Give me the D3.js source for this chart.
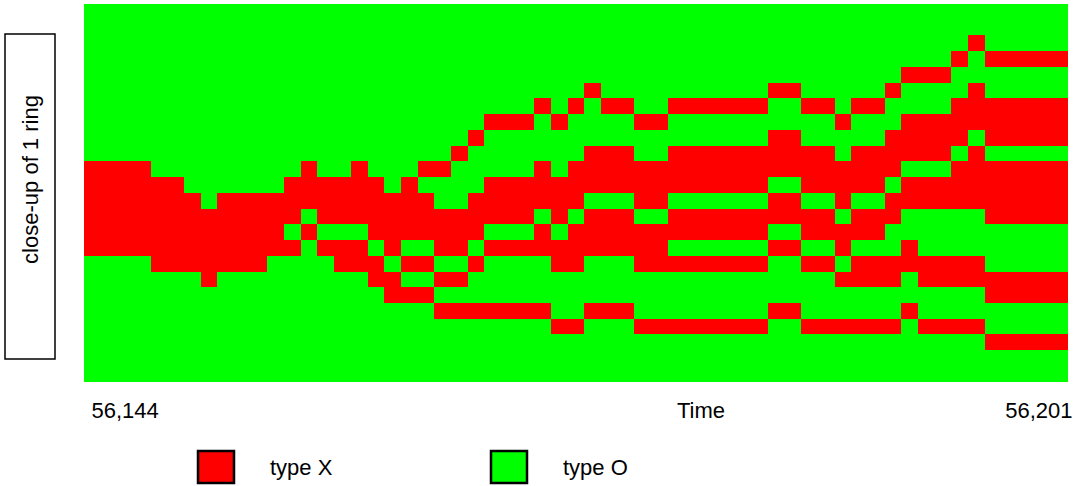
<!DOCTYPE html>
<html>
<head>
<meta charset="utf-8">
<script src="https://cdn.jsdelivr.net/npm/d3@7"></script>
<style>
  html, body { margin: 0; padding: 0; background: #ffffff; }
  svg { display: block; }
  text { font-family: "Liberation Sans", Arial, Helvetica, sans-serif; fill: #000; }
</style>
</head>
<body>
<svg id="chart" width="1088" height="486"></svg>
<script>
// ---- data ----
const times = [56144, 56145, 56146, 56147, 56148, 56149, 56150, 56151, 56152, 56153,
               56154, 56155, 56156, 56157, 56158, 56159, 56160, 56161, 56162, 56163,
               56164, 56165, 56166, 56167, 56168, 56169, 56170, 56171, 56172, 56173,
               56174, 56175, 56176, 56177, 56178, 56179, 56180, 56181, 56182, 56183,
               56184, 56185, 56186, 56187, 56188, 56189, 56190, 56191, 56192, 56193,
               56194, 56195, 56196, 56197, 56198, 56199, 56200, 56201, 56202];

const ringCells = ["c01", "c02", "c03", "c04", "c05", "c06", "c07", "c08", "c09", "c10", "c11", "c12",
                   "c13", "c14", "c15", "c16", "c17", "c18", "c19", "c20", "c21", "c22", "c23", "c24"];

// one string per ring cell (top to bottom), one letter per time step: X = type X, O = type O
const ringStates = [
  "OOOOOOOOOO OOOOOOOOOO OOOOOOOOOO OOOOOOOOOO OOOOOOOOOO OOOOOOOOO",
  "OOOOOOOOOO OOOOOOOOOO OOOOOOOOOO OOOOOOOOOO OOOOOOOOOO OOOOOOOOO",
  "OOOOOOOOOO OOOOOOOOOO OOOOOOOOOO OOOOOOOOOO OOOOOOOOOO OOOXOOOOO",
  "OOOOOOOOOO OOOOOOOOOO OOOOOOOOOO OOOOOOOOOO OOOOOOOOOO OOXOXXXXX",
  "OOOOOOOOOO OOOOOOOOOO OOOOOOOOOO OOOOOOOOOO OOOOOOOOOX XXOOOOOOO",
  "OOOOOOOOOO OOOOOOOOOO OOOOOOOOOO XOOOOOOOOO OXXOOOOOXO OOOXOOOOO",
  "OOOOOOOOOO OOOOOOOOOO OOOOOOOXOX OXXOOXXXXX XOOXXOXXOO OOXXXXXXX",
  "OOOOOOOOOO OOOOOOOOOO OOOOXXXOXO OOOXXOOOOO OOOOOXOOOX XXXXXXXXX",
  "OOOOOOOOOO OOOOOOOOOO OOOXOOOOOO OOOOOOOOOO OXXOOOOOXX XXXOXXXXX",
  "OOOOOOOOOO OOOOOOOOOO OOXOOOOOOO XXXOOXXXXX XXXXXOXXXX XXOXOOOOO",
  "XXXXOOOOOO OOOXOOXOOO XXOOOOOXOX XXXXXXXXXX XXXXXXXXXO OOXXXXXXX",
  "XXXXXXOOOO OOXXXXXXOX OOOOXXXXXX XXXXXXXXXX XOOXXXXXOX XXXXXXXXX",
  "XXXXXXXOXX XXXXXXXXXX XOOXXXXXXX OOOXXOOOOO OXXOOXOOXX XXXXXXXXX",
  "XXXXXXXXXX XXXOXXXXXX XXXXXXXOXO XXXOOXXXXX XXXXXOXXXO OOOOXXXXX",
  "XXXXXXXXXX XXOXOOOXXX XXXXOOOXOX XXXXXXXXXX XOOXXXXXOO OOOOOOOOO",
  "XXXXXXXXXX XXXOXXXOXO OXXOXXXXXX XXXXXOOOOO OXXOOXOOOX OOOOOOOOO",
  "OOOOXXXXXX XOOOOXXXOX XOOXOOOOXX OOOXXXXXXX XOOXXOXXXX XXXXOOOOO",
  "OOOOOOOXOO OOOOOOOXXO OXXOOOOOOO OOOOOOOOOO OOOOOXXXXO XXXXXXXXX",
  "OOOOOOOOOO OOOOOOOOXX XOOOOOOOOO OOOOOOOOOO OOOOOOOOOO OOOOXXXXX",
  "OOOOOOOOOO OOOOOOOOOO OXXXXXXXOO XXXOOOOOOO OXXOOOOOOX OOOOOOOOO",
  "OOOOOOOOOO OOOOOOOOOO OOOOOOOOXX OOOXXXXXXX XOOXXXXXXO XXXXOOOOO",
  "OOOOOOOOOO OOOOOOOOOO OOOOOOOOOO OOOOOOOOOO OOOOOOOOOO OOOOXXXXX",
  "OOOOOOOOOO OOOOOOOOOO OOOOOOOOOO OOOOOOOOOO OOOOOOOOOO OOOOOOOOO",
  "OOOOOOOOOO OOOOOOOOOO OOOOOOOOOO OOOOOOOOOO OOOOOOOOOO OOOOOOOOO"
];

const typeCodes  = ["X", "O"];
const typeLabels = ["type X", "type O"];
const typeColors = ["#ff0000", "#00ff00"];

const timeTicks = [56144, 56201];
const xTitle = "Time";
const yTitle = "close-up of 1 ring";

// ---- layout ----
const svg = d3.select("#chart");
const plot = { left: 84, right: 1068, top: 4, bottom: 381.7 };
const fontSize = "22px";

const x = d3.scaleBand().domain(times).range([plot.left, plot.right]).padding(0);
const y = d3.scaleBand().domain(ringCells).range([plot.top, plot.bottom]).padding(0);
const color = d3.scaleOrdinal().domain(typeCodes).range(typeColors);

const cells = ringCells.flatMap((cell, i) => {
  const row = ringStates[i].replace(/ /g, "");
  return times.map((t, j) => ({ cell, t, state: row[j] }));
});

svg.append("g")
  .attr("shape-rendering", "crispEdges")
  .selectAll("rect")
  .data(cells)
  .join("rect")
  .attr("x", d => x(d.t))
  .attr("y", d => y(d.cell))
  .attr("width", x.bandwidth())
  .attr("height", y.bandwidth())
  .attr("fill", d => color(d.state));

// ---- x axis labels (ends only) ----
const xTime = d3.scaleLinear().domain(d3.extent(timeTicks)).range([plot.left, plot.right]);
const fmt = d3.format(",");
const axisG = svg.append("g").attr("transform", `translate(0,${plot.bottom})`)
  .call(d3.axisBottom(xTime).tickValues(timeTicks).tickSize(0).tickFormat(fmt));
axisG.select(".domain").remove();
axisG.selectAll("text")
  .attr("y", 36.5)
  .attr("dy", 0)
  .style("font-size", fontSize)
  .style("font-family", "'Liberation Sans', Arial, sans-serif")
  .attr("text-anchor", (d, i) => i === 0 ? "start" : "end")
  .attr("x", (d, i) => i === 0 ? 7 : 4);

svg.append("text")
  .attr("x", (plot.left + plot.right) / 2 + 125)
  .attr("y", plot.bottom + 36.5)
  .attr("text-anchor", "middle")
  .style("font-size", fontSize)
  .text(xTitle);

// ---- y title in a box ----
svg.append("rect")
  .attr("x", 5).attr("y", 34).attr("width", 50).attr("height", 325)
  .attr("fill", "none").attr("stroke", "#000").attr("stroke-width", 1.5);
svg.append("text")
  .attr("transform", "translate(38,179.5) rotate(-90)")
  .attr("text-anchor", "middle")
  .style("font-size", fontSize)
  .text(yTitle);

// ---- legend ----
const legendX = d3.scaleLinear().domain([0, 1]).range([198, 491]);
const leg = svg.append("g").selectAll("g")
  .data(typeCodes)
  .join("g")
  .attr("transform", (d, i) => `translate(${legendX(i)},451)`);
leg.append("rect")
  .attr("width", 36).attr("height", 32)
  .attr("fill", d => color(d))
  .attr("stroke", "#000").attr("stroke-width", 2.5);
leg.append("text")
  .attr("x", 72).attr("y", 24)
  .style("font-size", fontSize)
  .text((d, i) => typeLabels[i]);
</script>
</body>
</html>
